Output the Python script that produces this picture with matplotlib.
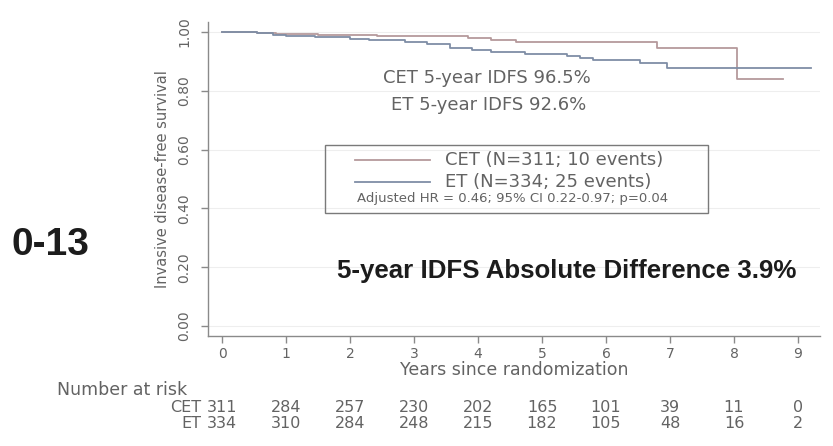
import matplotlib
matplotlib.use("Agg")
import matplotlib.pyplot as plt
from matplotlib import transforms
from matplotlib.patches import Rectangle

# Kaplan-Meier step estimates per arm (years since randomization, IDFS)
cet_time = [0, 0.55, 0.85, 1.5, 2.42, 3.85, 4.2, 4.6, 6.79, 8.04, 8.77]
cet_surv = [1.0, 0.996, 0.993, 0.99, 0.986, 0.979, 0.973, 0.967, 0.945, 0.839, 0.839]
et_time = [0, 0.55, 0.8, 1.0, 1.45, 2.0, 2.3, 2.86, 3.2, 3.56, 3.9, 4.2,
           4.73, 5.39, 5.6, 5.8, 6.53, 6.95, 9.21]
et_surv = [1.0, 0.996, 0.99, 0.987, 0.984, 0.977, 0.972, 0.965, 0.958, 0.947, 0.94, 0.931,
           0.925, 0.919, 0.912, 0.905, 0.893, 0.876, 0.876]

years = list(range(10))
risk_cet = [311, 284, 257, 230, 202, 165, 101, 39, 11, 0]
risk_et = [334, 310, 284, 248, 215, 182, 105, 48, 16, 2]
y_ticks = [0.0, 0.2, 0.4, 0.6, 0.8, 1.0]

CET_COLOR = "#b59a9c"
ET_COLOR = "#7f8ea6"
GRAY = "#636363"
AXIS = "#8a8a8a"

plt.rcParams["font.family"] = ["DejaVu Sans"]

fig = plt.figure(figsize=(8.33, 4.46), dpi=100)
ax = fig.add_axes([0.2497, 0.2466, 0.7347, 0.7041])

ax.step(cet_time, cet_surv, where="post", color=CET_COLOR, lw=1.3)
ax.step(et_time, et_surv, where="post", color=ET_COLOR, lw=1.3)

ax.set_xlim(-0.219, 9.344)
ax.set_ylim(-0.034, 1.034)
ax.set_xticks(years)
ax.set_yticks(y_ticks)
ax.set_yticklabels([f"{v:.2f}" for v in y_ticks], rotation=90, va="center")
ax.yaxis.grid(True, color="#eeeeee", lw=0.8)
ax.set_axisbelow(True)

for side in ["top", "right"]:
    ax.spines[side].set_visible(False)
for side in ["left", "bottom"]:
    ax.spines[side].set_color(AXIS)
    ax.spines[side].set_linewidth(1.0)
ax.tick_params(axis="both", colors=AXIS, length=5, width=1.0, labelcolor=GRAY)
ax.tick_params(axis="y", labelsize=10, pad=7)
ax.tick_params(axis="x", labelsize=10, pad=3)

ax.set_ylabel("Invasive disease-free survival", fontsize=10.5, color=GRAY, labelpad=5)
ax.set_xlabel("Years since randomization", fontsize=12.5, color=GRAY, labelpad=0)

# 5-year estimates
ax.text(0.456, 0.822, "CET 5-year IDFS 96.5%", transform=ax.transAxes,
        ha="center", va="center", fontsize=13, color=GRAY)
ax.text(0.459, 0.736, "ET 5-year IDFS 92.6%", transform=ax.transAxes,
        ha="center", va="center", fontsize=13, color=GRAY)

# legend box with hazard ratio
ax.add_patch(Rectangle((0.191, 0.392), 0.626, 0.216, transform=ax.transAxes,
                       fill=False, edgecolor="#7a7a7a", lw=1.0))
ax.plot([0.240, 0.363], [0.561, 0.561], transform=ax.transAxes, color=CET_COLOR, lw=1.3)
ax.plot([0.240, 0.363], [0.490, 0.490], transform=ax.transAxes, color=ET_COLOR, lw=1.3)
ax.text(0.387, 0.561, "CET (N=311; 10 events)", transform=ax.transAxes,
        ha="left", va="center", fontsize=13, color=GRAY)
ax.text(0.387, 0.490, "ET (N=334; 25 events)", transform=ax.transAxes,
        ha="left", va="center", fontsize=13, color=GRAY)
ax.text(0.497, 0.437, "Adjusted HR = 0.46; 95% CI 0.22-0.97; p=0.04", transform=ax.transAxes,
        ha="center", va="center", fontsize=9.5, color=GRAY)

ax.text(0.211, 0.207, "5-year IDFS Absolute Difference 3.9%", transform=ax.transAxes,
        ha="left", va="center", fontsize=18.6, fontweight="bold",
        family=["Liberation Sans", "DejaVu Sans"], color="#1c1c1c")

fig.text(0.014, 0.451, "0-13", ha="left", va="center", fontsize=28, fontweight="bold",
         family=["Liberation Sans", "DejaVu Sans"], color="#1c1c1c")

# number at risk table
risk = transforms.blended_transform_factory(ax.transData, fig.transFigure)
fig.text(0.068, 1 - 390 / 446, "Number at risk", ha="left", va="center",
         fontsize=12.5, color=GRAY)
for name, counts, ypos in [("CET", risk_cet, 1 - 408 / 446), ("ET", risk_et, 1 - 424 / 446)]:
    fig.text(0.242, ypos, name, ha="right", va="center", fontsize=11.5, color=GRAY)
    for yr, n in zip(years, counts):
        ax.text(yr, ypos, str(n), transform=risk, ha="center", va="center",
                fontsize=11.5, color=GRAY)

fig.savefig("out.png", dpi=100)
